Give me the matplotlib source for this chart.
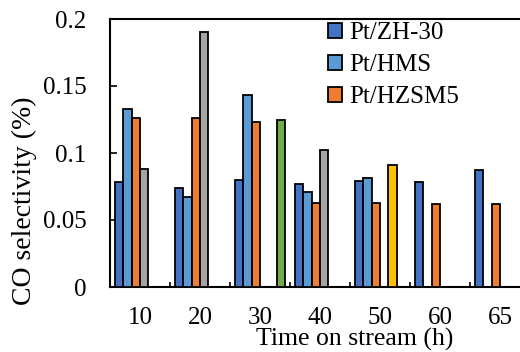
import numpy as np
import matplotlib
matplotlib.use("Agg")
import matplotlib.pyplot as plt
from matplotlib.ticker import FixedLocator, NullFormatter

plt.rcParams['font.family'] = ['Liberation Serif', 'DejaVu Serif']

nan = np.nan
times = ['10', '20', '30', '40', '50', '60', '65']
zh30 = [0.078, 0.074, 0.080, 0.077, 0.079, 0.078, 0.087]
hms = [0.133, 0.067, 0.143, 0.071, 0.081, nan, nan]
hzsm5 = [0.126, 0.126, 0.123, 0.063, 0.063, 0.062, 0.062]
extra_gray = [0.088, 0.190, nan, 0.102, nan, nan, nan]
extra_yellow = [nan, nan, nan, nan, 0.091, nan, nan]
extra_green = [nan, nan, 0.125, nan, nan, nan, nan]

yticks = [0, 0.05, 0.1, 0.15, 0.2]
ytick_labels = ['0', '0.05', '0.1', '0.15', '0.2']

series = [
    ('Pt/ZH-30', zh30, '#4472C4', True),
    ('Pt/HMS', hms, '#5B9BD5', True),
    ('Pt/HZSM5', hzsm5, '#ED7D31', True),
    (None, extra_gray, '#A5A5A5', False),
    (None, extra_yellow, '#FFC000', False),
    (None, extra_green, '#70AD47', False),
]

fig = plt.figure(figsize=(5.2, 3.52), dpi=100)
# axes runs past the right edge of the figure
ax = fig.add_axes([110 / 520, 65 / 352, 420 / 520, 268 / 352])

n_series = len(series)
gap = 1 / 12                       # empty space on each side of a cluster
slot = (1 - 2 * gap) / n_series    # width of one bar
idx = np.arange(len(times))

handles = []
for k, (label, vals, color, in_legend) in enumerate(series):
    vals = np.array(vals, dtype=float)
    ok = ~np.isnan(vals)
    x = idx[ok] + gap + (k + 0.5) * slot
    bars = ax.bar(x, vals[ok], width=slot, color=color, edgecolor='black',
                  linewidth=1.3, zorder=3)
    if in_legend:
        bars.set_label(label)
        handles.append(bars)

ax.set_xlim(0, len(times))
ax.set_ylim(0, 0.2)

ax.set_yticks(yticks)
ax.set_yticklabels(ytick_labels)
ax.tick_params(axis='y', direction='in', length=5, width=1.2, labelsize=18, pad=17)

# category labels at the centres, tick marks on the boundaries
ax.xaxis.set_major_locator(FixedLocator(idx + 0.5))
ax.set_xticklabels(times)
ax.xaxis.set_minor_locator(FixedLocator(idx[1:]))
ax.xaxis.set_minor_formatter(NullFormatter())
ax.tick_params(axis='x', which='major', length=0, labelsize=18, pad=14.5)
ax.tick_params(axis='x', which='minor', direction='in', length=3.5, width=1.2)

for side in ('left', 'bottom', 'top'):
    ax.spines[side].set_linewidth(1.5)
ax.spines['right'].set_visible(False)

ax.set_xlabel('Time on stream (h)', fontsize=18.5)
ax.xaxis.set_label_coords(355 / 520, 1 - 346 / 352, transform=fig.transFigure)
ax.xaxis.label.set_va('baseline')

ax.set_ylabel('CO selectivity (%)', fontsize=20)
ax.yaxis.set_label_coords(24 / 520, 1 - 201 / 352, transform=fig.transFigure)
ax.yaxis.label.set_va('center')

ax.legend(handles=handles, loc='upper left', bbox_to_anchor=(328 / 520, 1 - 22 / 352),
          bbox_transform=fig.transFigure, frameon=False, fontsize=18,
          handlelength=0.55, handleheight=0.55, handletextpad=0.3,
          labelspacing=0.4, borderpad=0, borderaxespad=0)

fig.savefig('out.png', dpi=100)
